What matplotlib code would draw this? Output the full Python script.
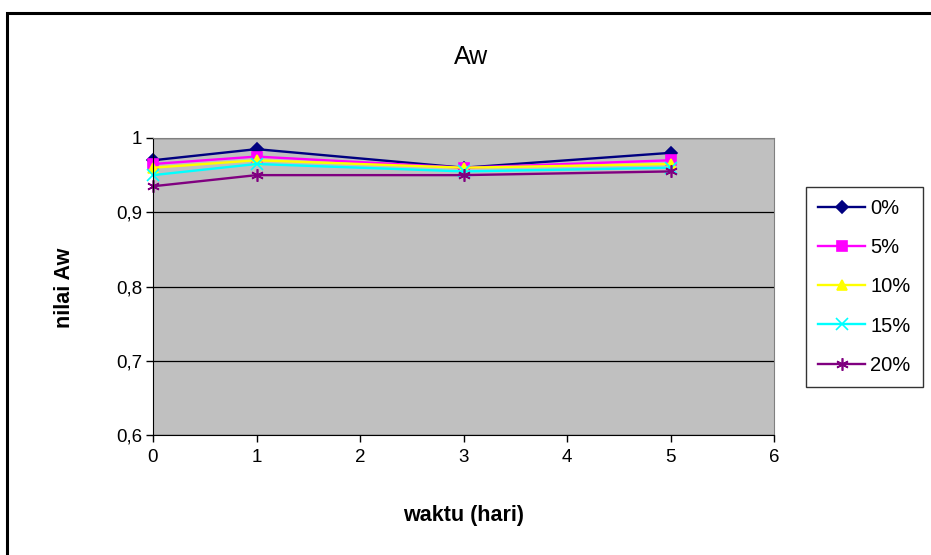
import matplotlib.pyplot as plt
from matplotlib.patches import Rectangle

plt.rcParams['font.family'] = ['Liberation Sans', 'DejaVu Sans']

days = [0, 1, 3, 5]
labels = ['0%', '5%', '10%', '15%', '20%']
aw_0 = [0.970, 0.985, 0.960, 0.980]
aw_5 = [0.965, 0.975, 0.960, 0.970]
aw_10 = [0.960, 0.970, 0.960, 0.965]
aw_15 = [0.950, 0.965, 0.955, 0.960]
aw_20 = [0.935, 0.950, 0.950, 0.955]

series = [aw_0, aw_5, aw_10, aw_15, aw_20]
colors = ['#000080', '#FF00FF', '#FFFF00', '#00FFFF', '#800080']
markers = ['D', 's', '^', 'x', (6, 2, 0)]
sizes = [6, 7, 7, 8, 9]

W, H = 931, 555
fig = plt.figure(figsize=(W / 100, H / 100), dpi=100)
fig.patches.append(Rectangle((7 / W, -0.05), 1.0, 1 - 13 / H + 0.05,
                             transform=fig.transFigure, fill=False,
                             edgecolor='black', linewidth=2.2))

ax = fig.add_axes([153 / W, 1 - 435 / H, 621 / W, 297 / H])
ax.set_facecolor('#C0C0C0')

for vals, lab, c, m, s in zip(series, labels, colors, markers, sizes):
    ax.plot(days, vals, color=c, marker=m, markersize=s, linewidth=1.7,
            markeredgecolor=c, markeredgewidth=1.2, label=lab, clip_on=False)

ax.set_xlim(0, 6)
ax.set_ylim(0.6, 1.0)
ax.set_xticks(range(0, 7))
ax.set_yticks([0.6, 0.7, 0.8, 0.9, 1.0])
ax.set_yticklabels(['0,6', '0,7', '0,8', '0,9', '1'])
ax.yaxis.grid(True, color='black', linewidth=0.9)
ax.set_axisbelow(True)
ax.tick_params(axis='both', labelsize=13.5, direction='out', length=5, width=1)
ax.tick_params(axis='x', pad=5)
ax.tick_params(axis='y', pad=3)

ax.spines['top'].set_color('#808080')
ax.spines['right'].set_color('#808080')
ax.spines['left'].set_color('black')
ax.spines['bottom'].set_color('black')

fig.text(471 / W, 1 - 57 / H, 'Aw', fontsize=18, ha='center', va='center')
fig.text(464 / W, 1 - 516 / H, 'waktu (hari)', fontsize=15.5, fontweight='bold',
         ha='center', va='center')
fig.text(64 / W, 1 - 288 / H, 'nilai Aw', fontsize=15.5, fontweight='bold',
         ha='center', va='center', rotation=90)

leg = ax.legend(loc='upper left', bbox_to_anchor=(806 / W, 1 - 187 / H),
                bbox_transform=fig.transFigure, borderaxespad=0,
                frameon=True, fancybox=False, edgecolor='black', fontsize=14.5,
                handlelength=2.35, labelspacing=1.0, borderpad=0.6,
                handletextpad=0.25)
leg.get_frame().set_linewidth(1)

fig.savefig('out.png', dpi=100)
